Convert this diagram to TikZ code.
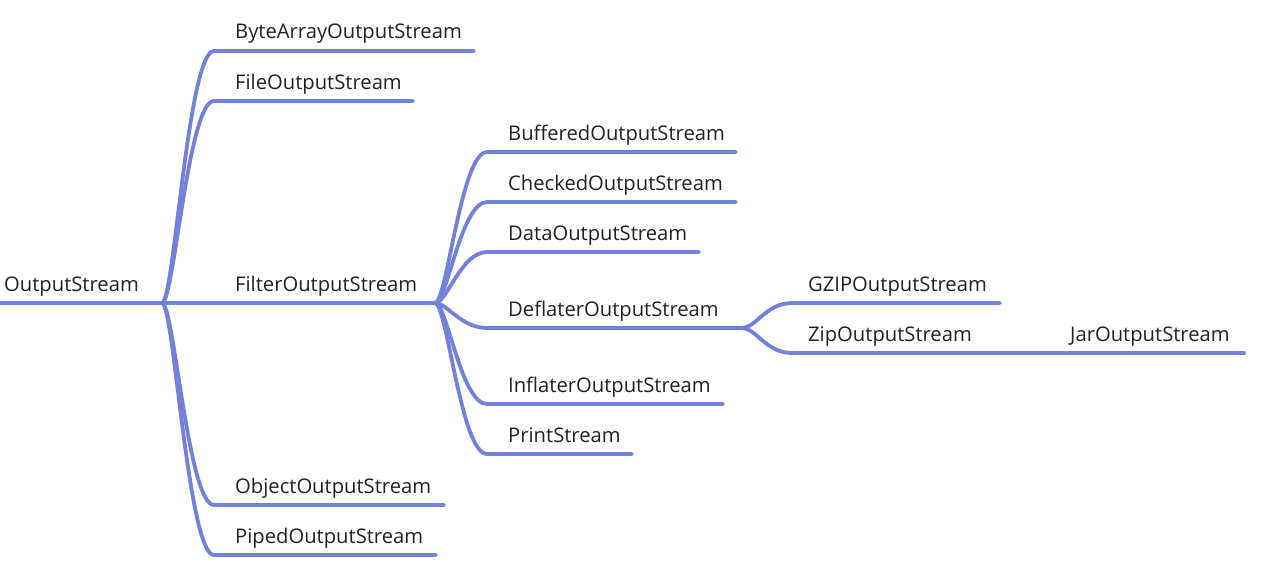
\documentclass[tikz,border=0pt]{standalone}
\usepackage{fontspec}
\setmainfont{Open Sans}
\definecolor{bl}{RGB}{114,130,220}
\definecolor{txt}{RGB}{34,34,34}
\begin{document}
\begin{tikzpicture}[x=1pt,y=-1pt,
  br/.style={draw=bl, line width=3.8pt, line cap=round},
  lbl/.style={anchor=base west, inner sep=0pt, font=\fontsize{20.2}{22}\selectfont, text=txt}]
\useasboundingbox (0,0) rectangle (1265,578);
% root
\coordinate (r0) at (0,303);
\coordinate (rj) at (162,303);
\node[lbl] (root) at (4,291) {OutputStream};
\draw[br] (r0) -- (rj);
% level 1
\node[lbl] (n1) at (235,39) {ByteArrayOutputStream};
\node[lbl] (n2) at (235,89) {FileOutputStream};
\node[lbl] (n3) at (235,291) {FilterOutputStream};
\node[lbl] (n4) at (235,493) {ObjectOutputStream};
\node[lbl] (n5) at (235,543) {PipedOutputStream};
\coordinate (s1) at (214,51); \coordinate (e1) at (474,51);
\coordinate (s2) at (214,101); \coordinate (e2) at (413,101);
\coordinate (fj) at (435,303);
\coordinate (s4) at (214,505); \coordinate (e4) at (444,505);
\coordinate (s5) at (214,555); \coordinate (e5) at (436,555);
\draw[br] (rj) .. controls (174,303) and (188,51) .. (s1) -- (e1);
\draw[br] (rj) .. controls (174,303) and (188,101) .. (s2) -- (e2);
\draw[br] (rj) -- (fj);
\draw[br] (rj) .. controls (174,303) and (188,505) .. (s4) -- (e4);
\draw[br] (rj) .. controls (174,303) and (188,555) .. (s5) -- (e5);
% level 2
\node[lbl] (m1) at (508,140) {BufferedOutputStream};
\node[lbl] (m2) at (508,190) {CheckedOutputStream};
\node[lbl] (m3) at (508,240) {DataOutputStream};
\node[lbl] (m4) at (508,316) {DeflaterOutputStream};
\node[lbl] (m5) at (508,392) {InflaterOutputStream};
\node[lbl] (m6) at (508,442) {PrintStream};
\coordinate (t1) at (487,152); \coordinate (f1) at (736,152);
\coordinate (t2) at (487,202); \coordinate (f2) at (736,202);
\coordinate (t3) at (487,252); \coordinate (f3) at (699,252);
\coordinate (t4) at (487,328); \coordinate (dj) at (742,328);
\coordinate (t5) at (487,404); \coordinate (f5) at (723,404);
\coordinate (t6) at (487,454); \coordinate (f6) at (632,454);
\draw[br] (fj) .. controls (447,303) and (461,152) .. (t1) -- (f1);
\draw[br] (fj) .. controls (447,303) and (461,202) .. (t2) -- (f2);
\draw[br] (fj) .. controls (447,303) and (461,252) .. (t3) -- (f3);
\draw[br] (fj) .. controls (447,303) and (461,328) .. (t4) -- (dj);
\draw[br] (fj) .. controls (447,303) and (461,404) .. (t5) -- (f5);
\draw[br] (fj) .. controls (447,303) and (461,454) .. (t6) -- (f6);
% level 3
\node[lbl] (g1) at (808,291) {GZIPOutputStream};
\node[lbl] (g2) at (808,341) {ZipOutputStream};
\coordinate (u1) at (792,303); \coordinate (v1) at (1000,303);
\coordinate (u2) at (792,353); \coordinate (zj) at (1050,353);
\draw[br] (dj) .. controls (756,328) and (766,303) .. (u1) -- (v1);
\draw[br] (dj) .. controls (756,328) and (766,353) .. (u2) -- (zj);
% level 4
\node[lbl] (j1) at (1070,341) {JarOutputStream};
\coordinate (w1) at (1244,353);
\draw[br] (zj) -- (w1);
\end{tikzpicture}
\end{document}
